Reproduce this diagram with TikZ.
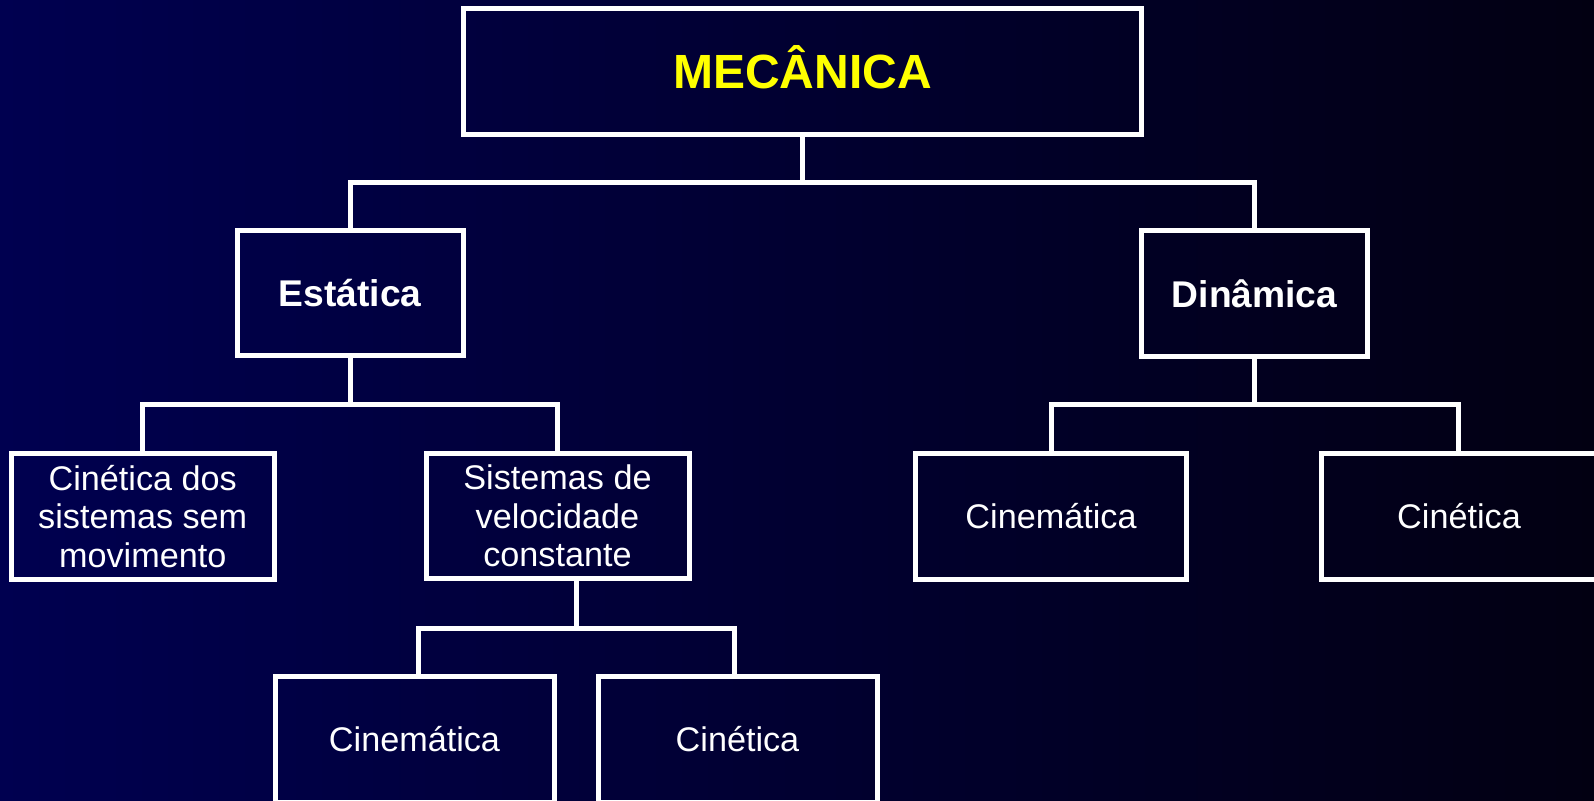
\documentclass[tikz,border=0pt]{standalone}
\usepackage{fontspec}
\setmainfont{Liberation Sans}
\definecolor{bgleft}{RGB}{0,0,80}
\definecolor{bgmid}{RGB}{0,0,58}
\definecolor{bgright}{RGB}{2,0,18}
\definecolor{headyellow}{RGB}{255,255,0}
\begin{document}
\begin{tikzpicture}[x=0.5pt,y=-0.5pt,
  box/.style={draw=white,line width=2.5pt,inner sep=0pt,outer sep=0pt,align=center,text=white,
    font=\fontsize{17.1}{19.3}\selectfont},
  headbox/.style={box,text=headyellow,font=\bfseries\fontsize{24}{28}\selectfont,text height=17.3pt,text depth=0pt},
  midbox/.style={box,font=\bfseries\fontsize{18.6}{22}\selectfont},
  conn/.style={draw=white,line width=2.5pt}]
\useasboundingbox (0,0) rectangle (1594,801);
\clip (0,0) rectangle (1594,801);
\shade[left color=bgleft,middle color=bgmid,right color=bgright] (0,0) rectangle (1594,801);

% boxes
\node[headbox,minimum width=339pt,minimum height=63pt] (mec) at (802.5,71.5) {MECÂNICA};
\node[midbox,minimum width=112.75pt,minimum height=62.5pt] (est) at (350.25,293.5) {Estática};
\node[midbox,minimum width=113pt,minimum height=62.75pt] (din) at (1254.5,293.75) {Dinâmica};
\node[box,minimum width=131.25pt,minimum height=62.75pt] (cdm) at (142.75,516.25) {Cinética dos\\sistemas sem\\movimento};
\node[box,minimum width=131.5pt,minimum height=62pt] (svc) at (557.5,516) {Sistemas de\\velocidade\\constante};
\node[box,minimum width=135.5pt,minimum height=62.75pt] (cin1) at (1051,516.25) {Cinemática};
\node[box,minimum width=138pt,minimum height=62.75pt] (cet1) at (1459,516.25) {Cinética};
\node[box,minimum width=139.5pt,minimum height=63pt] (cin2) at (414.5,739.5) {Cinemática};
\node[box,minimum width=139.5pt,minimum height=63pt] (cet2) at (737.5,739.5) {Cinética};

% bar levels
\coordinate (r1) at (0,182.5);
\coordinate (r2) at (0,404.5);
\coordinate (r3) at (0,404.5);
\coordinate (r4) at (0,628.5);

% connectors
\draw[conn] (mec.south) -- (mec.south |- r1);
\draw[conn] (est.north) |- (mec.south |- r1) -| (din.north);

\draw[conn] (est.south) -- (est.south |- r2);
\draw[conn] (cdm.north) |- (est.south |- r2) -| (svc.north);

\draw[conn] (din.south) -- (din.south |- r3);
\draw[conn] (cin1.north) |- (din.south |- r3) -| ([xshift=-0.5pt]cet1.north);

\draw[conn] ([xshift=9.5pt]svc.south) -- ([xshift=9.5pt]svc.south |- r4);
\draw[conn] ([xshift=2pt]cin2.north) |- ([xshift=9.5pt]svc.south |- r4) -| ([xshift=-1.5pt]cet2.north);
\end{tikzpicture}
\end{document}
